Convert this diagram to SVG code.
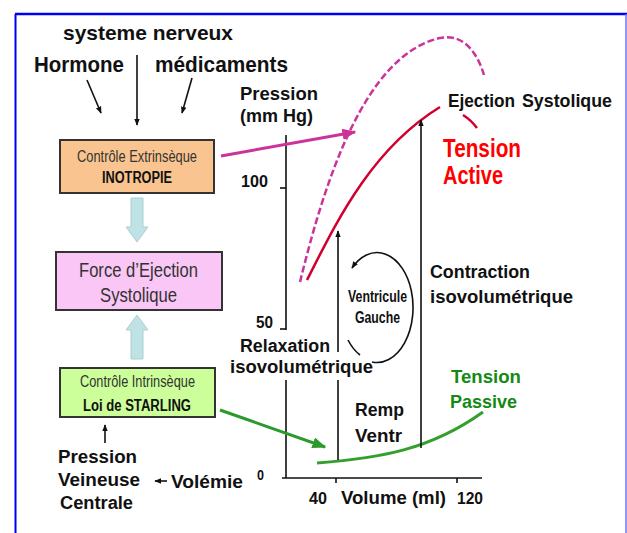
<svg xmlns="http://www.w3.org/2000/svg" width="627" height="533" viewBox="0 0 627 533">
<style>
text{font-family:"Liberation Sans",Arial,sans-serif;font-weight:bold;fill:#111}
.box{stroke:#333;stroke-width:2}
.bt{fill:#333;font-weight:normal}
.thin{stroke:#111;stroke-width:1.6;fill:none}
.pale{fill:#bfe2e5;stroke:#a9d0d4;stroke-width:1}
</style>
<defs>
<marker id="ab" viewBox="0 0 10 10" refX="9" refY="5" markerWidth="7" markerHeight="7" markerUnits="userSpaceOnUse" orient="auto"><path d="M0,1 L10,5 L0,9 Z" fill="#111"/></marker>
<marker id="am" viewBox="0 0 10 10" refX="9" refY="5" markerWidth="14" markerHeight="14" markerUnits="userSpaceOnUse" orient="auto"><path d="M0,1 L10,5 L0,9 Z" fill="#cc3399"/></marker>
<marker id="ag" viewBox="0 0 10 10" refX="9" refY="5" markerWidth="14" markerHeight="14" markerUnits="userSpaceOnUse" orient="auto"><path d="M0,1 L10,5 L0,9 Z" fill="#2a9a2a"/></marker>
</defs>
<rect width="627" height="533" fill="#fff"/>
<g id="frame">
<line x1="15" y1="14" x2="627" y2="14" stroke="#0000f0" stroke-width="2.5"/>
<line x1="15.5" y1="14" x2="15.5" y2="533" stroke="#0000f0" stroke-width="2"/>
<line x1="626" y1="14" x2="626" y2="533" stroke="#7070ff" stroke-width="1.5"/>
</g>
<g id="inputs">
<text x="63" y="40" font-size="21" textLength="170" lengthAdjust="spacingAndGlyphs">systeme nerveux</text>
<text x="34" y="72" font-size="22" textLength="90" lengthAdjust="spacingAndGlyphs">Hormone</text>
<text x="155" y="72" font-size="22" textLength="133" lengthAdjust="spacingAndGlyphs">médicaments</text>
</g>
<g id="extrinseque">
<rect class="box" x="60" y="140" width="154" height="53" fill="#f9c48f"/>
<text class="bt" x="77" y="162" font-size="16" textLength="120" lengthAdjust="spacingAndGlyphs">Contrôle Extrinsèque</text>
<text x="102" y="183" font-size="16" fill="#222" textLength="70" lengthAdjust="spacingAndGlyphs">INOTROPIE</text>
</g>
<g id="force">
<rect class="box" x="56" y="252" width="166" height="58" fill="#f9c6f5"/>
<text class="bt" x="79" y="277" font-size="21" textLength="119" lengthAdjust="spacingAndGlyphs">Force d’Ejection</text>
<text class="bt" x="100" y="302" font-size="21" textLength="77" lengthAdjust="spacingAndGlyphs">Systolique</text>
</g>
<g id="intrinseque">
<rect class="box" x="60" y="368" width="155" height="49" fill="#ccff99"/>
<text class="bt" x="80" y="387" font-size="16" textLength="115" lengthAdjust="spacingAndGlyphs">Contrôle Intrinsèque</text>
<text x="83" y="411" font-size="16" fill="#222" textLength="108" lengthAdjust="spacingAndGlyphs">Loi de STARLING</text>
</g>
<g id="pvc">
<text x="58" y="463" font-size="18" textLength="79" lengthAdjust="spacingAndGlyphs">Pression</text>
<text x="58" y="486" font-size="18" textLength="82" lengthAdjust="spacingAndGlyphs">Veineuse</text>
<text x="60" y="509" font-size="18" textLength="73" lengthAdjust="spacingAndGlyphs">Centrale</text>
</g>
<g id="volemie">
<text x="171" y="488" font-size="19" textLength="72" lengthAdjust="spacingAndGlyphs">Volémie</text>
</g>
<g id="axes">
<line class="thin" x1="286" y1="135" x2="286" y2="330" stroke-width="2.2"/>
<line class="thin" x1="286" y1="380" x2="286" y2="478" stroke-width="2.2"/>
<line class="thin" x1="280" y1="188" x2="286" y2="188" stroke-width="2"/>
<line class="thin" x1="280" y1="329" x2="286" y2="329" stroke-width="2"/>
<line class="thin" x1="282" y1="478" x2="482" y2="478" stroke-width="2.4"/>
<line class="thin" x1="336" y1="478" x2="336" y2="483" stroke-width="2"/>
<line class="thin" x1="457" y1="478" x2="457" y2="483" stroke-width="2"/>
<text x="240" y="100" font-size="19" textLength="78" lengthAdjust="spacingAndGlyphs">Pression</text>
<text x="240" y="122" font-size="19" textLength="73" lengthAdjust="spacingAndGlyphs">(mm Hg)</text>
<text x="241" y="187" font-size="17" textLength="27" lengthAdjust="spacingAndGlyphs">100</text>
<text x="256" y="328" font-size="17" textLength="17" lengthAdjust="spacingAndGlyphs">50</text>
<text x="257" y="480" font-size="15" textLength="7" lengthAdjust="spacingAndGlyphs">0</text>
<text x="309" y="504" font-size="17" textLength="18" lengthAdjust="spacingAndGlyphs">40</text>
<text x="341" y="504" font-size="18" textLength="105" lengthAdjust="spacingAndGlyphs">Volume (ml)</text>
<text x="457" y="504" font-size="17" textLength="26" lengthAdjust="spacingAndGlyphs">120</text>
</g>
<g id="curves">
<path d="M300,282 C325,180 365,55 440,38 C465,33 478,55 484,75" fill="none" stroke="#cc3399" stroke-width="2.5" stroke-dasharray="7,3"/>
<path d="M307,280 C335,225 370,150 440,107" fill="none" stroke="#d2002e" stroke-width="2.5"/>
<path d="M463,115 Q471,120 477,128" fill="none" stroke="#d2002e" stroke-width="2.5"/>
<path d="M317,463 C380,458 430,450 483,412" fill="none" stroke="#33a02c" stroke-width="3"/>
</g>
<g id="ventricule">
<path d="M372,362 A36,55 0 1 0 352,268" class="thin" stroke="#222" stroke-width="1.8" marker-end="url(#ab)"/>
<path d="M348,340 A36,55 0 0 0 360,355" class="thin" stroke="#222" stroke-width="1.8"/>
<text x="348" y="302" font-size="17" fill="#333" textLength="59" lengthAdjust="spacingAndGlyphs">Ventricule</text>
<text x="355" y="323" font-size="17" fill="#333" textLength="45" lengthAdjust="spacingAndGlyphs">Gauche</text>
</g>
<g id="labels">
<text x="448" y="107" font-size="18" textLength="67" lengthAdjust="spacingAndGlyphs">Ejection</text>
<text x="522" y="107" font-size="18" textLength="90" lengthAdjust="spacingAndGlyphs">Systolique</text>
<text x="443" y="157" font-size="25" style="fill:#f00" textLength="78" lengthAdjust="spacingAndGlyphs">Tension</text>
<text x="443" y="184" font-size="25" style="fill:#f00" textLength="60" lengthAdjust="spacingAndGlyphs">Active</text>
<text x="430" y="278" font-size="18" textLength="100" lengthAdjust="spacingAndGlyphs">Contraction</text>
<text x="430" y="303" font-size="18" textLength="143" lengthAdjust="spacingAndGlyphs">isovolumétrique</text>
<text x="451" y="383" font-size="19" style="fill:#138a13" textLength="70" lengthAdjust="spacingAndGlyphs">Tension</text>
<text x="450" y="408" font-size="19" style="fill:#138a13" textLength="67" lengthAdjust="spacingAndGlyphs">Passive</text>
<text x="355" y="416" font-size="18" textLength="49" lengthAdjust="spacingAndGlyphs">Remp</text>
<text x="355" y="442" font-size="18" textLength="47" lengthAdjust="spacingAndGlyphs">Ventr</text>
<text x="240" y="352" font-size="18" textLength="90" lengthAdjust="spacingAndGlyphs">Relaxation</text>
<text x="230" y="373" font-size="18" textLength="143" lengthAdjust="spacingAndGlyphs">isovolumétrique</text>
</g>
<g id="connectors">
<line class="thin" x1="87" y1="80" x2="101" y2="113" marker-end="url(#ab)"/>
<line class="thin" x1="137" y1="55" x2="137" y2="125" marker-end="url(#ab)"/>
<line class="thin" x1="192" y1="78" x2="182" y2="113" marker-end="url(#ab)"/>
<polygon class="pale" points="131,198 143,198 143,227 148,227 137,242 126,227 131,227"/>
<polygon class="pale" points="131,359 143,359 143,330 148,330 137,315 126,330 131,330"/>
<line class="thin" x1="105" y1="443" x2="105" y2="425" marker-end="url(#ab)"/>
<line class="thin" x1="167" y1="481" x2="155" y2="481" marker-end="url(#ab)"/>
<line x1="221" y1="156" x2="355" y2="132" stroke="#cc3399" stroke-width="3" marker-end="url(#am)"/>
<line x1="220" y1="410" x2="325" y2="447" stroke="#2a9a2a" stroke-width="3" marker-end="url(#ag)"/>
<line class="thin" x1="421" y1="448" x2="421" y2="120" marker-end="url(#ab)"/>
<line class="thin" x1="338" y1="460" x2="338" y2="380"/>
<line class="thin" x1="338" y1="352" x2="338" y2="231" marker-end="url(#ab)"/>
</g>
</svg>
